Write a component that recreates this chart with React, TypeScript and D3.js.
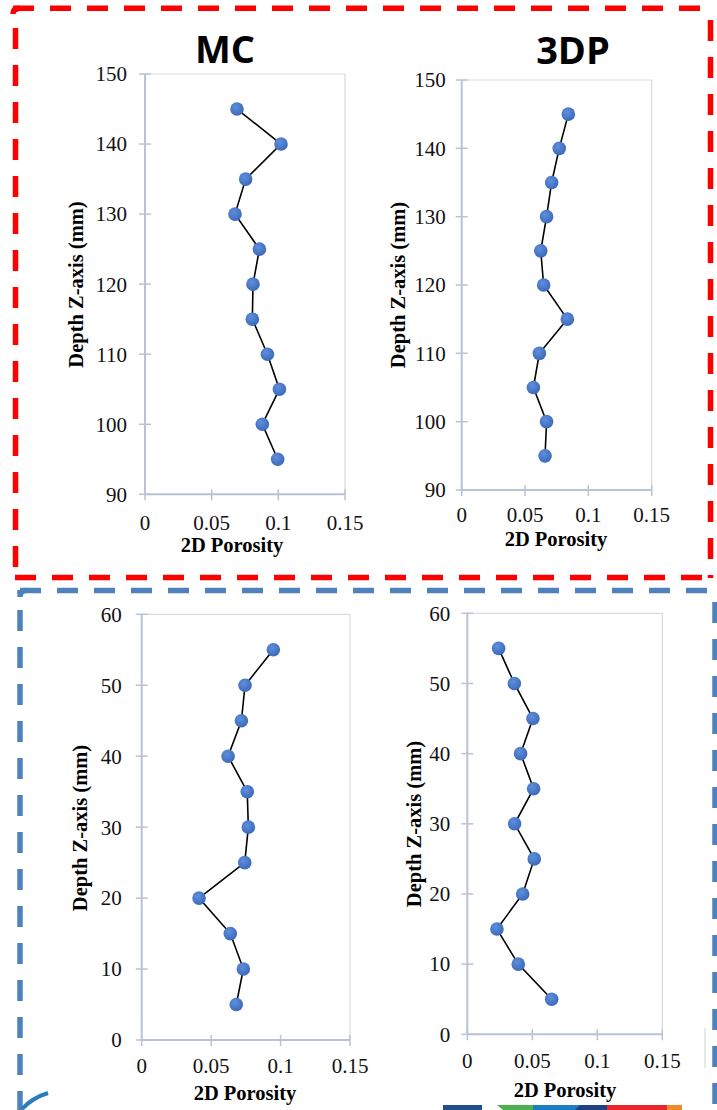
import React from "react";
import * as d3 from "d3";

// Sampling depths (mm) along the build direction
const depthTop = [145, 140, 135, 130, 125, 120, 115, 110, 105, 100, 95];
const depthBottom = [55, 50, 45, 40, 35, 30, 25, 20, 15, 10, 5];

// 2D porosity per slice
const mcTop = [0.069, 0.102, 0.0755, 0.0675, 0.0858, 0.081, 0.0805, 0.0918, 0.1008, 0.088, 0.0995];
const dpTop = [0.0842, 0.077, 0.071, 0.067, 0.0624, 0.0647, 0.0834, 0.0613, 0.0566, 0.067, 0.0658];
const mcBottom = [0.0948, 0.0744, 0.0718, 0.0622, 0.076, 0.0768, 0.0742, 0.0413, 0.0638, 0.0732, 0.0681];
const dpBottom = [0.0241, 0.0362, 0.0505, 0.041, 0.051, 0.0364, 0.0515, 0.0426, 0.0228, 0.0392, 0.0649];

// Axis ticks
const porosityTicks = [0, 0.05, 0.1, 0.15];
const depthTicksTop = [90, 100, 110, 120, 130, 140, 150];
const depthTicksBottom = [0, 10, 20, 30, 40, 50, 60];

const SERIF = "'Liberation Serif', 'Times New Roman', serif";
const AXIS = "#b8c3d6";
const BORDER = "#d9d9d9";

type Panel = {
  key: string;
  depths: number[];
  values: number[];
  yTicks: number[];
  left: number;
  right: number;
  top: number;
  bottom: number;
  yTickGap: number;
  xTickDrop: number;
  xLabel: [number, number];
  yLabel: [number, number];
  title?: { text: string; x: number; y: number };
};

const panels: Panel[] = [
  {
    key: "mc-top", depths: depthTop, values: mcTop, yTicks: depthTicksTop,
    left: 145, right: 345, top: 74, bottom: 494.3, yTickGap: 18, xTickDrop: 35.7,
    xLabel: [232, 552], yLabel: [83, 284.5], title: { text: "MC", x: 225, y: 63 },
  },
  {
    key: "3dp-top", depths: depthTop, values: dpTop, yTicks: depthTicksTop,
    left: 461.7, right: 651.7, top: 80, bottom: 490, yTickGap: 16, xTickDrop: 32,
    xLabel: [556, 546], yLabel: [405, 285], title: { text: "3DP", x: 573, y: 64 },
  },
  {
    key: "mc-bottom", depths: depthBottom, values: mcBottom, yTicks: depthTicksBottom,
    left: 141.7, right: 350, top: 614.3, bottom: 1040, yTickGap: 20, xTickDrop: 33,
    xLabel: [245, 1100], yLabel: [87, 828],
  },
  {
    key: "3dp-bottom", depths: depthBottom, values: dpBottom, yTicks: depthTicksBottom,
    left: 467.3, right: 662.3, top: 613.3, bottom: 1034.3, yTickGap: 17, xTickDrop: 34,
    xLabel: [565, 1097], yLabel: [421, 824],
  },
];

function DepthPlot({ p }: { p: Panel }) {
  const x = d3.scaleLinear().domain([0, 0.15]).range([p.left, p.right]);
  const yExt = d3.extent(p.yTicks) as [number, number];
  const y = d3.scaleLinear().domain(yExt).range([p.bottom, p.top]);
  const pts = p.depths.map((d, i) => [p.values[i], d] as [number, number]);
  const line = d3.line<[number, number]>().x((d) => x(d[0])).y((d) => y(d[1]));

  return (
    <g>
      {/* plot area frame */}
      <line x1={p.left} x2={p.right} y1={p.top} y2={p.top} stroke={BORDER} strokeWidth={1.2} />
      <line x1={p.right} x2={p.right} y1={p.top} y2={p.bottom} stroke={BORDER} strokeWidth={1.2} />
      {/* axes */}
      <line x1={p.left} x2={p.left} y1={p.top} y2={p.bottom} stroke={AXIS} strokeWidth={2} />
      <line x1={p.left} x2={p.right} y1={p.bottom} y2={p.bottom} stroke={AXIS} strokeWidth={2} />
      {p.yTicks.map((t) => (
        <g key={"y" + t}>
          <line x1={p.left - 6} x2={p.left + 6} y1={y(t)} y2={y(t)} stroke={AXIS} strokeWidth={1.5} />
          <text x={p.left - p.yTickGap} y={y(t)} dy="0.35em" textAnchor="end"
            fontFamily={SERIF} fontSize={21} fill="#111">{t}</text>
        </g>
      ))}
      {porosityTicks.map((t) => (
        <g key={"x" + t}>
          <line x1={x(t)} x2={x(t)} y1={p.bottom - 5} y2={p.bottom + 6} stroke={AXIS} strokeWidth={1.5} />
          <text x={x(t)} y={p.bottom + p.xTickDrop} textAnchor="middle"
            fontFamily={SERIF} fontSize={21} fill="#111">{String(t)}</text>
        </g>
      ))}
      <text x={p.xLabel[0]} y={p.xLabel[1]} textAnchor="middle" fontFamily={SERIF}
        fontWeight="bold" fontSize={20.5} fill="#000">2D Porosity</text>
      <text transform={`translate(${p.yLabel[0]},${p.yLabel[1]}) rotate(-90)`} textAnchor="middle"
        fontFamily={SERIF} fontWeight="bold" fontSize={20.5} fill="#000">Depth Z-axis (mm)</text>
      {p.title && (
        <text x={p.title.x} y={p.title.y} textAnchor="middle" fontFamily="'Open Sans', 'DejaVu Sans', sans-serif"
          fontWeight={700} fontSize={38} fill="#000">{p.title.text}</text>
      )}
      <path d={line(pts) || ""} fill="none" stroke="#000" strokeWidth={1.6} />
      {pts.map((d, i) => (
        <circle key={i} cx={x(d[0])} cy={y(d[1])} r={6.8} fill="url(#markerFill)" />
      ))}
    </g>
  );
}

// one dashed edge of a group frame
function Dash({ x1, y1, x2, y2, color, offset = 0, w = 5.5 }: any) {
  return (
    <line x1={x1} y1={y1} x2={x2} y2={y2} stroke={color} strokeWidth={w}
      strokeDasharray="21 16" strokeDashoffset={offset} />
  );
}

export default function App() {
  const red = "#ff0000";
  const blue = "#4f81bd";
  return (
    <svg width={717} height={1110} viewBox="0 0 717 1110"
      style={{ position: "absolute", left: 0, top: 0, display: "block", background: "#fff" }}>
      <defs>
        <radialGradient id="markerFill" cx="0.4" cy="0.35" r="0.7">
          <stop offset="0" stopColor="#5f8fdc" />
          <stop offset="1" stopColor="#3a67b8" />
        </radialGradient>
      </defs>
      <rect width={717} height={1110} fill="#fff" />

      {/* MC / 3DP comparison frame (upper section) */}
      <Dash x1={13} y1={8.3} x2={712} y2={8.3} color={red} />
      <Dash x1={15.5} y1={8} x2={15.5} y2={578} color={red} offset={17} />
      <Dash x1={710.5} y1={8} x2={710.5} y2={578} color={red} offset={25} />
      <Dash x1={13} y1={577.5} x2={712} y2={577.5} color={red} offset={-2} />
      <path d="M13,14 Q13,8.3 19,8.3" fill="none" stroke={red} strokeWidth={5.5} />

      {/* lower section frame */}
      <Dash x1={20} y1={590.5} x2={717} y2={590.5} color={blue} />
      <Dash x1={20} y1={590} x2={20} y2={1110} color={blue} offset={17} />
      <Dash x1={715} y1={590} x2={715} y2={1110} color={blue} offset={25} />
      <path d="M20,597 Q20,590.5 26,590.5" fill="none" stroke={blue} strokeWidth={5.5} />

      {panels.map((p) => <DepthPlot key={p.key} p={p} />)}

      {/* edge of the graphic below */}
      <path d="M22,1109 Q32,1098 48,1093" fill="none" stroke="#2a7dbb" strokeWidth={4} />
      <line x1={705} y1={1028} x2={705} y2={1068} stroke="#c9d6c4" strokeWidth={1} />
      <polygon points="443,1105 482,1105 482,1110 443,1110" fill="#1f4f8f" />
      <polygon points="497,1105 533,1105 533,1110 503,1110" fill="#4cb04f" />
      <polygon points="533,1105 580,1105 580,1110 533,1110" fill="#1c7fc6" />
      <polygon points="580,1105 607,1105 607,1110 575,1110" fill="#1f3f86" />
      <polygon points="607,1105 667,1105 667,1110 607,1110" fill="#e8262b" />
      <polygon points="667,1105 682,1105 682,1110 667,1110" fill="#f08a24" />
    </svg>
  );
}
